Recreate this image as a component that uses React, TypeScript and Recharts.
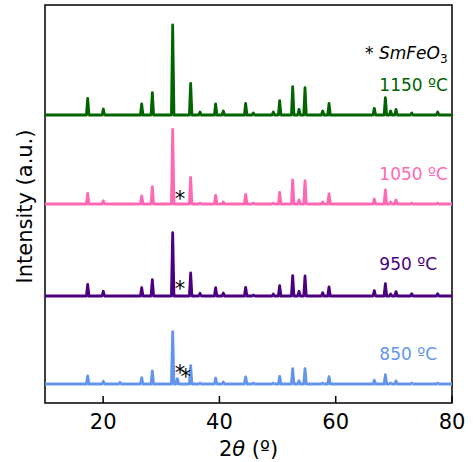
import React from "react";
import { ComposedChart, Line, Scatter, XAxis, YAxis, ReferenceArea, ReferenceDot } from "recharts";

// 2θ positions of the diffraction peaks (shared by all patterns)
const peakPositions = [17.34, 20.03, 22.9, 26.63, 28.46, 31.96, 32.76, 35.05, 36.66, 39.35, 40.67, 44.51, 45.83, 49.27, 50.36, 52.6, 53.69, 54.72, 57.76, 58.85, 66.64, 68.54, 69.45, 70.37, 73.07, 77.54];

// peak heights (a.u.) for each calcination temperature
const heights1150 = [16.7, 6, 0, 11, 22.3, 90, 0, 31.7, 3, 11, 4, 11.7, 2, 3, 14.3, 28.3, 5.7, 27.3, 4, 11.7, 6.7, 17.3, 4, 5.7, 2, 3];
const heights1050 = [10.7, 3.3, 0, 8, 17.3, 74.7, 0, 26.7, 1, 8.7, 2, 9.7, 1, 1, 11.7, 24, 4, 23.3, 2, 10, 5, 14, 2, 4, 1, 1];
const heights950 = [11.7, 4.7, 0, 8.3, 16.3, 63.3, 0, 23, 2.7, 8.3, 3, 8.7, 1, 2, 10.3, 20.3, 4.7, 20, 3.3, 9, 5.3, 12.3, 2, 4.3, 2.3, 2.3];
const heights850 = [8, 2.7, 1.7, 6.3, 13, 52.3, 5.3, 18.3, 1, 6, 2, 7, 1, 1, 7.7, 15.3, 3.3, 15.3, 1, 7.3, 3.7, 9.3, 1, 3, 1, 1];

// vertical offsets of the stacked patterns
const offset1150 = 288;
const offset1050 = 199;
const offset950 = 107;
const offset850 = 19;

const seriesLabels = ["1150 ºC", "1050 ºC", "950 ºC", "850 ºC"];
const seriesColors = ["#006400", "#ff69b4", "#4b0082", "#6495ed"];

// SmFeO3 reflections marked with asterisks
const asteriskMarks = [
  { x: 33.22, y: 209 },
  { x: 33.22, y: 119 },
  { x: 33.22, y: 34.7 },
  { x: 34.2, y: 31.3 },
];

const xTicks = [20, 40, 60, 80];
const xDomain = [10, 80];
const yDomain = [0, 398];
const labelX = 67.5;
const labelY = [318, 229, 139, 49];
const legendX = 65.04;
const legendY = 350;

const HW = 0.22;
function buildPattern(heights: number[], offset: number) {
  const pts: { x: number; y: number }[] = [{ x: xDomain[0], y: offset }];
  peakPositions.forEach((p, i) => {
    const h = heights[i];
    if (h <= 0) return;
    pts.push({ x: p - HW, y: offset });
    pts.push({ x: p, y: offset + h });
    pts.push({ x: p + HW, y: offset });
  });
  pts.push({ x: xDomain[1], y: offset });
  return pts;
}

const patterns = [
  buildPattern(heights1150, offset1150),
  buildPattern(heights1050, offset1050),
  buildPattern(heights950, offset950),
  buildPattern(heights850, offset850),
];

const FONT = "'DejaVu Sans', sans-serif";

const XTick = (props: any) => {
  const { x, y, payload } = props;
  return (
    <g>
      <line x1={x} y1={y} x2={x} y2={y - 7} stroke="#000" strokeWidth={1.5} />
      <text x={x} y={y + 25.5} textAnchor="middle" fontSize={21} fontFamily={FONT} fill="#000">
        {payload.value}
      </text>
    </g>
  );
};

const Asterisk = (props: any) => {
  const { cx, cy } = props;
  return (
    <text x={cx} y={cy + 12} textAnchor="middle" fontSize={21} fontFamily={FONT} fill="#000">
      *
    </text>
  );
};

export default function App() {
  return (
    <div style={{ position: "absolute", left: 0, top: 0, width: 473, height: 462, background: "#fff" }}>
      <ComposedChart width={473} height={462} margin={{ top: 5, right: 21, bottom: 19, left: 45 }}>
        <XAxis
          type="number"
          dataKey="x"
          domain={xDomain}
          ticks={xTicks}
          allowDataOverflow
          height={40}
          tickSize={0}
          tickMargin={0}
          tickLine={false}
          axisLine={false}
          tick={<XTick />}
        />
        <YAxis type="number" dataKey="y" domain={yDomain} hide width={0} allowDataOverflow />
        {patterns.map((d, i) => (
          <Line
            key={i}
            data={d}
            dataKey="y"
            type="linear"
            stroke={seriesColors[i]}
            strokeWidth={2.8}
            dot={false}
            activeDot={false}
            isAnimationActive={false}
            strokeLinejoin="round"
          />
        ))}
        <Scatter data={asteriskMarks} dataKey="y" shape={<Asterisk />} isAnimationActive={false} />
        <ReferenceArea x1={xDomain[0]} x2={xDomain[1]} y1={yDomain[0]} y2={yDomain[1]} fill="none" stroke="#000" strokeWidth={1.5} ifOverflow="visible" />
        {seriesLabels.map((t, i) => (
          <ReferenceDot
            key={t}
            x={labelX}
            y={labelY[i]}
            r={0}
            fill="none"
            stroke="none"
            label={{
              content: (p: any) => (
                <text x={p.viewBox.x} y={p.viewBox.y + 6} fontSize={17} fontFamily={FONT} fill={seriesColors[i]}>
                  {t}
                </text>
              ),
            }}
          />
        ))}
        <ReferenceDot
          x={legendX}
          y={legendY}
          r={0}
          fill="none"
          stroke="none"
          label={{
            content: (p: any) => (
              <text x={p.viewBox.x} y={p.viewBox.y + 6} fontSize={17} fontFamily={FONT} fill="#000">
                <tspan>* </tspan>
                <tspan fontStyle="italic">SmFeO</tspan>
                <tspan fontSize={12} dy={4}>3</tspan>
              </text>
            ),
          }}
        />
      </ComposedChart>
      <svg width={473} height={462} style={{ position: "absolute", left: 0, top: 0, pointerEvents: "none" }}>
        <text x={248.5} y={456} textAnchor="middle" fontSize={21} fontFamily={FONT} fill="#000">
          2<tspan fontStyle="italic">θ</tspan> (º)
        </text>
        <text
          x={32}
          y={206.5}
          textAnchor="middle"
          fontSize={21}
          fontFamily={FONT}
          fill="#000"
          transform="rotate(-90 32 206.5)"
        >
          Intensity (a.u.)
        </text>
      </svg>
    </div>
  );
}
